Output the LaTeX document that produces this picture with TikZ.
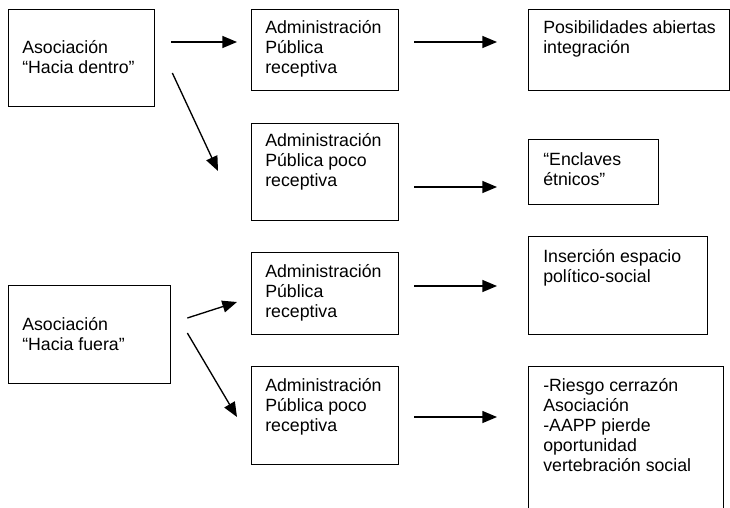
\documentclass[tikz,border=0pt]{standalone}
\usepackage{fontspec}
\setmainfont{Liberation Sans}
\usetikzlibrary{arrows.meta}

\tikzset{
	box/.style 2 args={draw, line width=1pt, inner sep=0pt, anchor=north west, minimum width=#1*0.75pt, minimum height=#2*0.75pt},
	txt/.style={inner sep=0pt, anchor=north west, align=left, font=\fontsize{13.3}{15}\selectfont},
	arr/.style={line width=1pt, -{Triangle[length=11pt,width=9pt]}}
}

\begin{document}
\begin{tikzpicture}[x=0.75pt, y=-0.75pt]
	\clip (0,0) rectangle (730,507);

	\node (asocdentro) [box={146}{97}] at (8,9) {};
	\node (asocdentrotxt) [txt] at ([shift={(14,31)}]asocdentro.north west) {Asociación\\“Hacia dentro”};
	\node (asocfuera) [box={162}{98}] at (8,285) {};
	\node (asocfueratxt) [txt] at ([shift={(14,32)}]asocfuera.north west) {Asociación\\“Hacia fuera”};

	\node (admrec1) [box={147}{81}] at (251,9) {};
	\node (admrec1txt) [txt] at ([shift={(14,11)}]admrec1.north west) {Administración\\Pública\\receptiva};
	\node (admpoco1) [box={147}{97}] at (251,123) {};
	\node (admpoco1txt) [txt] at ([shift={(14,10)}]admpoco1.north west) {Administración\\Pública poco\\receptiva};
	\node (admrec2) [box={147}{82}] at (251,252) {};
	\node (admrec2txt) [txt] at ([shift={(14,12)}]admrec2.north west) {Administración\\Pública\\receptiva};
	\node (admpoco2) [box={147}{98}] at (251,366) {};
	\node (admpoco2txt) [txt] at ([shift={(14,12)}]admpoco2.north west) {Administración\\Pública poco\\receptiva};

	\node (posib) [box={201}{81}] at (528,9) {};
	\node (posibtxt) [txt] at ([shift={(15,11)}]posib.north west) {Posibilidades abiertas\\integración};
	\node (enclaves) [box={130}{65}] at (528,139) {};
	\node (enclavestxt) [txt] at ([shift={(15,13)}]enclaves.north west) {“Enclaves\\étnicos”};
	\node (insercion) [box={179}{98}] at (528,236) {};
	\node (inserciontxt) [txt] at ([shift={(15,13)}]insercion.north west) {Inserción espacio\\político-social};
	\node (riesgo) [box={195}{160}] at (528,366) {};
	\node (riesgotxt) [txt] at ([shift={(15,12)}]riesgo.north west) {-Riesgo cerrazón\\Asociación\\-AAPP pierde\\oportunidad\\vertebración social};

	\draw [arr] ([shift={(16,33)}]asocdentro.north east) -- ([shift={(-14,33)}]admrec1.north west);
	\draw [arr] ([shift={(17,64)}]asocdentro.north east) -- ([shift={(-33,48)}]admpoco1.north west);
	\draw [arr] ([shift={(15,33)}]admrec1.north east) -- ([shift={(-31,33)}]posib.north west);
	\draw [arr] ([shift={(15,64)}]admpoco1.north east) -- ([shift={(-31,48)}]enclaves.north west);
	\draw [arr] ([shift={(16,33)}]asocfuera.north east) -- ([shift={(-14,50)}]admrec2.north west);
	\draw [arr] ([shift={(16,48)}]asocfuera.north east) -- ([shift={(-14,51)}]admpoco2.north west);
	\draw [arr] ([shift={(15,34)}]admrec2.north east) -- ([shift={(-31,50)}]insercion.north west);
	\draw [arr] ([shift={(15,51)}]admpoco2.north east) -- ([shift={(-31,51)}]riesgo.north west);
\end{tikzpicture}
\end{document}
